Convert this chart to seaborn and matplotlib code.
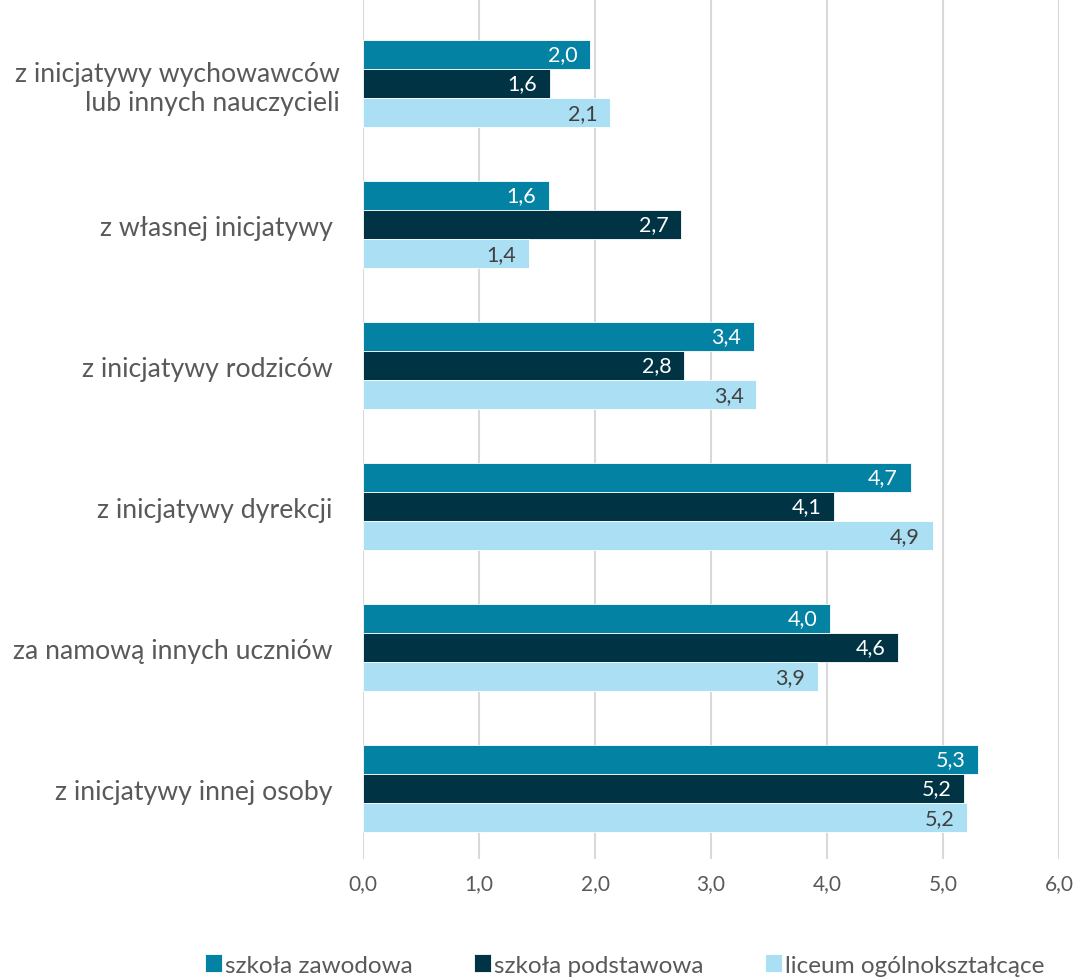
import matplotlib
matplotlib.use("Agg")
import matplotlib.pyplot as plt
import seaborn as sns
import pandas as pd

categories = [
    "z inicjatywy wychowawców\nlub innych nauczycieli",
    "z własnej inicjatywy ",
    "z inicjatywy rodziców ",
    "z inicjatywy dyrekcji ",
    "za namową innych uczniów ",
    "z inicjatywy innej osoby ",
]
series = ["szkoła zawodowa", "szkoła podstawowa", "liceum ogólnokształcące"]
zawodowa = [1.96, 1.60, 3.37, 4.72, 4.03, 5.30]
podstawowa = [1.61, 2.74, 2.77, 4.06, 4.61, 5.18]
liceum = [2.13, 1.43, 3.39, 4.91, 3.92, 5.21]
x_ticks = [0, 1, 2, 3, 4, 5, 6]

colors = ["#0382A3", "#003444", "#ABDFF3"]
label_colors = ["white", "white", "#404040"]

df = pd.DataFrame({
    "kategoria": categories * 3,
    "grupa": [s for s in series for _ in categories],
    "wartosc": zawodowa + podstawowa + liceum,
})

sns.set_style("white")
plt.rcParams["font.family"] = ["Lato", "DejaVu Sans"]

fig = plt.figure(figsize=(10.75, 9.79), dpi=100)
ax = fig.add_axes([0.3377, 1 - 860 / 979, 0.9851 - 0.3377, 860 / 979])

sns.barplot(data=df, y="kategoria", x="wartosc", hue="grupa", order=categories,
            hue_order=series, palette=colors, saturation=1, orient="h", width=0.62,
            edgecolor="white", linewidth=0.6, ax=ax, legend=True)

for cont, col in zip(ax.containers, label_colors):
    labels = [f"{v:.1f}".replace(".", ",") for v in cont.datavalues]
    texts = ax.bar_label(cont, labels=labels, padding=-9, color=col, fontsize=15.5)
    for t in texts:
        t.set_horizontalalignment("right")

ax.set_xlim(0, 6)
ax.set_ylim(5.5, -0.6)
ax.set_xticks(x_ticks)
ax.set_xticklabels([f"{t:.1f}".replace(".", ",") for t in x_ticks],
                   fontsize=15, color="#595959")
ax.tick_params(axis="x", length=0, pad=10)
ax.tick_params(axis="y", length=0, pad=17, labelsize=19.2, labelcolor="#595959")
for lab in ax.get_yticklabels():
    lab.set_horizontalalignment("right")
    lab.set_multialignment("right")
ax.xaxis.grid(True, color="#D9D9D9", linewidth=1.5)
ax.set_axisbelow(True)
for s in ax.spines.values():
    s.set_visible(False)
ax.set_xlabel("")
ax.set_ylabel("")

handles, lbls = ax.get_legend_handles_labels()
ax.legend_.remove()
fig.legend(handles, lbls, loc="center", bbox_to_anchor=(0.581, 1 - 966 / 979),
           ncol=3, frameon=False, fontsize=17.5, handlelength=0.7, handleheight=0.7,
           handletextpad=0.15, columnspacing=2.5, labelcolor="#595959")

fig.savefig("out.png", dpi=100)
